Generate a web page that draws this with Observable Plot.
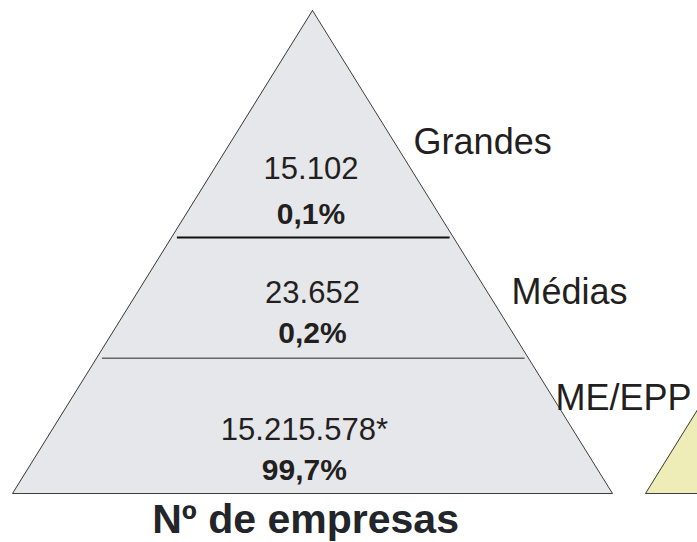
<!DOCTYPE html>
<html><head><meta charset="utf-8">
<script src="https://cdn.jsdelivr.net/npm/d3@7"></script>
<script src="https://cdn.jsdelivr.net/npm/@observablehq/plot@0.6"></script>
<style>body{margin:0;background:#fff;overflow:hidden;}</style>
</head><body><div id="chart"></div>
<script>
// ---- data ----
const categories = ["Grandes", "Médias", "ME/EPP"];
const companyCounts = ["15.102", "23.652", "15.215.578*"];
const shares = ["0,1%", "0,2%", "99,7%"];
const chartTitle = "Nº de empresas";

// ---- layout (pyramid units: x = half-width from centre, y = fraction of height from apex) ----
const tierBottoms = [0.470, 0.720, 1.0];
const countY = [0.348, 0.605, 0.890];
const shareY = [0.441, 0.689, 0.973];
const textX = [-0.005, 0.0, -0.027];
const labelX = [0.337, 0.663, 0.81];
const labelY = [0.298, 0.607, 0.828];
const secondPyramidCentre = 2.11;

const font = "Liberation Sans, Arial, Helvetica, sans-serif";
const ink = "#231f20";

function pyramid(cx) {
  return [{y: 0, x1: cx, x2: cx}, {y: 1, x1: cx - 1, x2: cx + 1}];
}
function outline(cx) {
  return [{x: cx, y: 0}, {x: cx - 1, y: 1}, {x: cx + 1, y: 1}, {x: cx, y: 0}];
}

const tiers = categories.map((c, i) => ({
  category: c, count: companyCounts[i], share: shares[i],
  bottom: tierBottoms[i], countY: countY[i], shareY: shareY[i], tx: textX[i],
  lx: labelX[i], ly: labelY[i]
}));
const dividers = tiers.slice(0, 2).map((t, i) => ({
  x1: -t.bottom + 0.018, x2: t.bottom - 0.013, y: t.bottom,
  stroke: i === 0 ? "#111" : "#666", sw: i === 0 ? 2.2 : 1.5
}));

const chart = Plot.plot({
  width: 697, height: 542,
  marginLeft: 12, marginRight: 85, marginTop: 10, marginBottom: 49,
  x: {domain: [-1, 1], axis: null},
  y: {domain: [0, 1], axis: null, reverse: true},
  style: {fontFamily: font, background: "#fff"},
  marks: [
    Plot.areaX(pyramid(0), {x1: "x1", x2: "x2", y: "y", fill: "#e6e7eb"}),
    Plot.areaX(pyramid(secondPyramidCentre), {x1: "x1", x2: "x2", y: "y", fill: "#efedb7"}),
    Plot.line(outline(0), {x: "x", y: "y", stroke: "#3c3c3c", strokeWidth: 1}),
    Plot.line(outline(secondPyramidCentre), {x: "x", y: "y", stroke: "#3c3c3c", strokeWidth: 1}),
    Plot.link(dividers, {x1: "x1", x2: "x2", y1: "y", y2: "y", stroke: d => d.stroke, strokeWidth: d => d.sw}),
    Plot.text(tiers, {x: "tx", y: "countY", text: "count", fontSize: 31, fill: ink, lineAnchor: "bottom"}),
    Plot.text(tiers, {x: "tx", y: "shareY", text: "share", fontSize: 30, fontWeight: "bold", fill: ink, lineAnchor: "bottom"}),
    Plot.text(tiers, {x: "lx", y: "ly", text: "category", fontSize: 36, fill: ink, textAnchor: "start", lineAnchor: "bottom"}),
    Plot.text([chartTitle], {x: [-0.023], y: [1.081], text: d => d, fontSize: 41, fontWeight: "bold", fill: "#222529", lineAnchor: "bottom"})
  ]
});
document.getElementById("chart").appendChild(chart);
</script>
</body></html>
